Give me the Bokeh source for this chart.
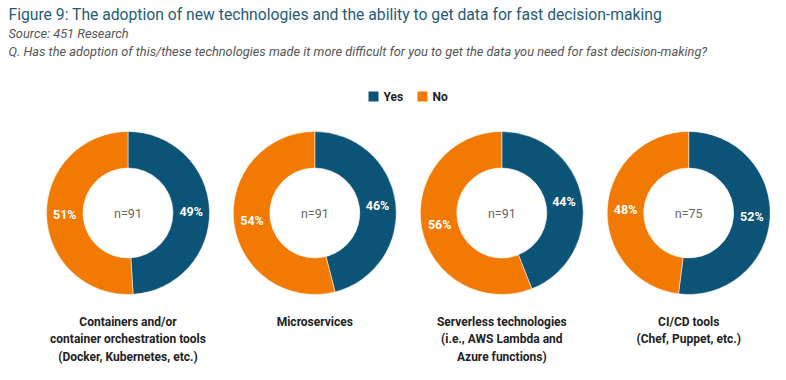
import math
from bokeh.plotting import figure
from bokeh.models import Range1d, ColumnDataSource
from bokeh.core.properties import value
from bokeh.embed import file_html
from bokeh.resources import INLINE

categories = [
    "Containers and/or\ncontainer orchestration tools\n(Docker, Kubernetes, etc.)",
    "Microservices",
    "Serverless technologies\n(i.e., AWS Lambda and\nAzure functions)",
    "CI/CD tools\n(Chef, Puppet, etc.)",
]
yes_pct = [49, 46, 44, 52]
no_pct = [51, 54, 56, 48]
n_resp = [91, 91, 91, 75]
series = ["Yes", "No"]

W, H = 770, 364
BLUE = "#0b5377"
ORANGE = "#f27a03"
TITLE_C = "#245b79"

def Y(ypix):
    return H - ypix

p = figure(width=W, height=H, output_backend="svg", toolbar_location=None,
           x_range=Range1d(0, W), y_range=Range1d(0, H), min_border=0)
p.axis.visible = False
p.grid.visible = False
p.outline_line_color = None
p.background_fill_color = "white"

cx = [127.5, 314.3, 501.3, 688.2]
cy = Y(212.5)
R_OUT, R_IN = 81.5, 45

xs, ys, starts, ends, colors = [], [], [], [], []
lx, ly, ltxt = [], [], []
for i in range(len(categories)):
    yf = yes_pct[i] / 100.0
    top = math.pi / 2
    yes_start = top - 2 * math.pi * yf
    xs.append(cx[i]); ys.append(cy); starts.append(yes_start); ends.append(top); colors.append(BLUE)
    xs.append(cx[i]); ys.append(cy); starts.append(top); ends.append(yes_start + 2 * math.pi); colors.append(ORANGE)
    rm = (R_OUT + R_IN) / 2
    a_yes = (yes_start + top) / 2
    a_no = (top + yes_start + 2 * math.pi) / 2
    lx += [cx[i] + rm * math.cos(a_yes), cx[i] + rm * math.cos(a_no)]
    ly += [cy + rm * math.sin(a_yes), cy + rm * math.sin(a_no)]
    ltxt += [f"{yes_pct[i]}%", f"{no_pct[i]}%"]

src = ColumnDataSource(dict(x=xs, y=ys, s=starts, e=ends, c=colors))
p.annular_wedge(x="x", y="y", inner_radius=R_IN, outer_radius=R_OUT,
                start_angle="s", end_angle="e", fill_color="c", line_color="white",
                line_width=0.5, source=src)

p.text(x=lx, y=ly, text=ltxt, text_color="white", text_font=value("Roboto"),
       text_font_style="bold", text_font_size="12.5px", text_align="center",
       text_baseline="middle")

p.text(x=cx, y=[cy] * 4, text=[f"n={n}" for n in n_resp], text_color="#666666",
       text_font=value("Roboto"), text_font_size="12.5px", text_align="center",
       text_baseline="middle")

p.text(x=cx, y=[Y(314)] * 4, text=categories, text_color="#222222",
       text_font=value("Roboto"), text_font_style="bold", text_font_size="12px",
       text_align="center", text_baseline="top", text_line_height=1.25)

p.text(x=[8], y=[Y(14)], text=["Figure 9: The adoption of new technologies and the ability to get data for fast decision-making"],
       text_color=TITLE_C, text_font=value("Roboto"), text_font_size="15.7px",
       text_baseline="middle", text_align="left")
p.text(x=[8], y=[Y(33)], text=["Source: 451 Research"], text_color="#555555",
       text_font=value("Roboto"), text_font_style="italic", text_font_size="12.8px",
       text_baseline="middle")
p.text(x=[8], y=[Y(51)], text=["Q.  Has the adoption of this/these technologies made it more difficult for you to get the data you need for fast decision-making?"],
       text_color="#555555", text_font=value("Roboto"), text_font_style="italic",
       text_font_size="12.8px", text_baseline="middle")

leg_x = [368, 417]
p.rect(x=[v + 5 for v in leg_x], y=[Y(96)] * 2, width=10, height=10,
       fill_color=[BLUE, ORANGE], line_color=None)
p.text(x=[v + 15 for v in leg_x], y=[Y(96)] * 2, text=series, text_color="#222222",
       text_font=value("Roboto"), text_font_style="bold", text_font_size="12px",
       text_baseline="middle")

open("out.html", "w").write(file_html(p, INLINE))
